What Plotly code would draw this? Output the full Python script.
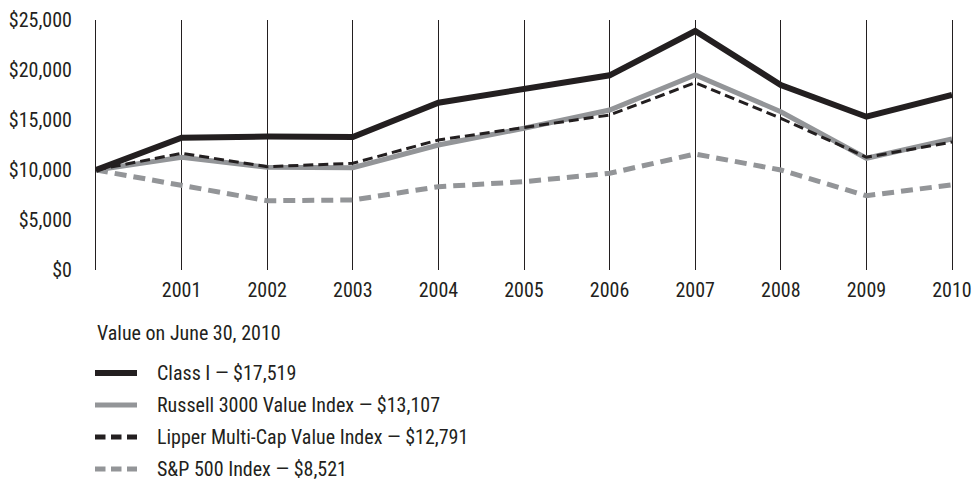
import plotly.graph_objects as go

years = list(range(2000, 2011))
class_i = [10000, 13230, 13350, 13300, 16730, 18070, 19470, 23900, 18500, 15330, 17519]
russell = [10000, 11270, 10270, 10230, 12500, 14170, 16000, 19500, 15830, 11170, 13107]
lipper = [10000, 11670, 10330, 10670, 13000, 14230, 15500, 18730, 15170, 11270, 12791]
sp500 = [10000, 8500, 6930, 7000, 8330, 8830, 9670, 11600, 10000, 7430, 8521]

names = ["Class I", "Russell 3000 Value Index", "Lipper Multi-Cap Value Index", "S&P 500 Index"]
series = [class_i, russell, lipper, sp500]
legend_title = "Value on June 30, 2010"
y_ticks = [0, 5000, 10000, 15000, 20000, 25000]
y_labels = [f"${v:,}" for v in y_ticks]
x_labels = [""] + [str(y) for y in years[1:]]

BLACK = "#231f20"
GRAY = "#939598"
FONT = "Roboto Condensed, DejaVu Sans Condensed, sans-serif"

styles = [
    dict(color=BLACK, width=6, dash="solid"),
    dict(color=GRAY, width=5, dash="solid"),
    dict(color=BLACK, width=3, dash="10px,5px"),
    dict(color=GRAY, width=5, dash="12px,7px"),
]
legend_styles = [
    dict(color=BLACK, width=6, dash="solid"),
    dict(color=GRAY, width=5, dash="solid"),
    dict(color=BLACK, width=5, dash="10.5px,5.5px"),
    dict(color=GRAY, width=5, dash="10.5px,5.5px"),
]

W, H = 974, 483
L, R, T, B = 96, 952, 20, 270

fig = go.Figure()
for idx in [3, 1, 2, 0]:
    fig.add_trace(go.Scatter(x=years, y=series[idx], mode="lines", name=names[idx],
                             line=styles[idx], showlegend=False, hoverinfo="skip"))

def px_x(p):
    return (p - L) / (R - L)

def px_y(p):
    return (B - p) / (B - T)

shapes = []
annotations = [dict(text=legend_title, x=px_x(95), y=px_y(333), xref="paper", yref="paper",
                    xanchor="left", yanchor="middle", showarrow=False,
                    font=dict(family=FONT, size=20, color=BLACK))]
row_y = [373, 405, 437, 469]
for i, name in enumerate(names):
    yy = px_y(row_y[i])
    shapes.append(dict(type="line", xref="paper", yref="paper", x0=px_x(95), x1=px_x(137),
                       y0=yy, y1=yy, line=legend_styles[i]))
    annotations.append(dict(text=f"{name} \u2014 ${series[i][-1]:,}", x=px_x(155), y=yy,
                            xref="paper", yref="paper", xanchor="left", yanchor="middle",
                            showarrow=False, font=dict(family=FONT, size=20, color=BLACK)))

fig.update_layout(
    width=W, height=H,
    margin=dict(l=L, r=W - R, t=T, b=H - B),
    paper_bgcolor="white", plot_bgcolor="white",
    font=dict(family=FONT, size=20, color=BLACK),
    shapes=shapes, annotations=annotations,
    xaxis=dict(range=[2000, 2010], tickvals=years, ticktext=x_labels, showgrid=True,
               gridcolor=BLACK, gridwidth=1, zeroline=False, showline=False, ticks="",
               automargin=False, ticklabelstandoff=6,
               tickfont=dict(family=FONT, size=20, color=BLACK)),
    yaxis=dict(range=[0, 25000], tickvals=y_ticks, ticktext=y_labels,
               showgrid=False, zeroline=False, showline=True, mirror=True,
               linecolor=BLACK, linewidth=1, ticks="",
               automargin=False, ticklabelstandoff=19,
               tickfont=dict(family=FONT, size=20, color=BLACK)),
)

fig.write_html("out.html", config={"displayModeBar": False},
               post_script="document.body.style.margin='0px';")
